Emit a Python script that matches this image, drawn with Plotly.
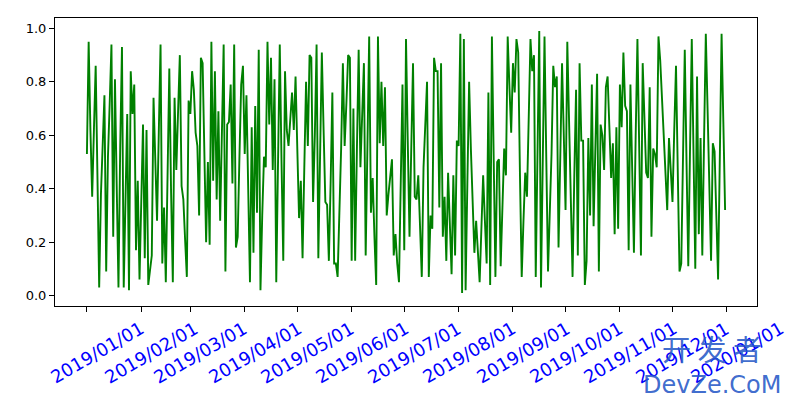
import pandas as pd
import plotly.graph_objects as go

start_date = "2019-01-01"
values = [
    0.53, 0.95, 0.62, 0.37, 0.62, 0.86, 0.45, 0.03, 0.38, 0.60,
    0.75, 0.09, 0.52, 0.72, 0.94, 0.22, 0.81, 0.41, 0.03, 0.56,
    0.93, 0.03, 0.36, 0.68, 0.02, 0.84, 0.68, 0.79, 0.17, 0.43,
    0.06, 0.37, 0.64, 0.14, 0.62, 0.04, 0.10, 0.15, 0.74, 0.51,
    0.28, 0.61, 0.94, 0.12, 0.33, 0.05, 0.46, 0.85, 0.39, 0.05,
    0.74, 0.47, 0.69, 0.90, 0.41, 0.36, 0.21, 0.07, 0.73, 0.68,
    0.84, 0.77, 0.61, 0.56, 0.30, 0.89, 0.87, 0.53, 0.20, 0.50,
    0.19, 0.95, 0.43, 0.84, 0.36, 0.69, 0.28, 0.61, 0.94, 0.09,
    0.64, 0.65, 0.79, 0.42, 0.94, 0.18, 0.22, 0.52, 0.79, 0.86,
    0.53, 0.75, 0.40, 0.05, 0.63, 0.16, 0.71, 0.31, 0.92, 0.02,
    0.30, 0.52, 0.48, 0.95, 0.64, 0.89, 0.47, 0.81, 0.05, 0.50,
    0.94, 0.50, 0.13, 0.84, 0.62, 0.56, 0.66, 0.76, 0.62, 0.82,
    0.55, 0.29, 0.43, 0.14, 0.48, 0.80, 0.56, 0.90, 0.89, 0.35,
    0.60, 0.94, 0.14, 0.52, 0.91, 0.62, 0.35, 0.34, 0.13, 0.42,
    0.76, 0.12, 0.12, 0.07, 0.30, 0.55, 0.87, 0.56, 0.72, 0.90,
    0.89, 0.13, 0.70, 0.13, 0.55, 0.92, 0.48, 0.68, 0.87, 0.15,
    0.62, 0.97, 0.31, 0.44, 0.22, 0.04, 0.97, 0.57, 0.80, 0.56,
    0.78, 0.30, 0.38, 0.45, 0.51, 0.15, 0.23, 0.12, 0.05, 0.42,
    0.79, 0.17, 0.96, 0.58, 0.22, 0.55, 0.87, 0.37, 0.36, 0.45,
    0.25, 0.07, 0.48, 0.64, 0.80, 0.07, 0.30, 0.25, 0.89, 0.84,
    0.84, 0.33, 0.87, 0.22, 0.37, 0.13, 0.46, 0.27, 0.08, 0.45,
    0.15, 0.58, 0.56, 0.98, 0.01, 0.96, 0.02, 0.42, 0.80, 0.55,
    0.36, 0.16, 0.28, 0.15, 0.05, 0.25, 0.45, 0.28, 0.12, 0.76,
    0.04, 0.97, 0.52, 0.07, 0.50, 0.51, 0.11, 0.33, 0.55, 0.45,
    0.97, 0.78, 0.61, 0.87, 0.76, 0.96, 0.91, 0.45, 0.07, 0.28,
    0.46, 0.37, 0.70, 0.96, 0.84, 0.90, 0.07, 0.55, 0.99, 0.03,
    0.50, 0.97, 0.52, 0.09, 0.31, 0.53, 0.86, 0.78, 0.82, 0.18,
    0.52, 0.87, 0.60, 0.32, 0.95, 0.66, 0.36, 0.07, 0.45, 0.77,
    0.15, 0.87, 0.58, 0.58, 0.04, 0.13, 0.59, 0.30, 0.79, 0.26,
    0.55, 0.83, 0.09, 0.64, 0.60, 0.47, 0.78, 0.82, 0.63, 0.44,
    0.57, 0.23, 0.63, 0.25, 0.79, 0.63, 0.91, 0.71, 0.69, 0.17,
    0.79, 0.45, 0.16, 0.60, 0.96, 0.56, 0.15, 0.87, 0.66, 0.46,
    0.44, 0.78, 0.22, 0.55, 0.53, 0.48, 0.97, 0.88, 0.74, 0.59,
    0.45, 0.32, 0.59, 0.48, 0.35, 0.62, 0.86, 0.47, 0.09, 0.12,
    0.55, 0.92, 0.50, 0.11, 0.55, 0.96, 0.53, 0.10, 0.82, 0.23,
    0.59, 0.15, 0.58, 0.98, 0.70, 0.42, 0.13, 0.57, 0.54, 0.30,
    0.06, 0.52, 0.98, 0.65, 0.32,
]
tick_labels = [
    "2019/01/01", "2019/02/01", "2019/03/01", "2019/04/01", "2019/05/01",
    "2019/06/01", "2019/07/01", "2019/08/01", "2019/09/01", "2019/10/01",
    "2019/11/01", "2019/12/01", "2020/01/01",
]
y_ticks = [0.0, 0.2, 0.4, 0.6, 0.8, 1.0]

dates = pd.date_range(start_date, periods=len(values), freq="D")
tick_dates = [pd.Timestamp(t.replace("/", "-")) for t in tick_labels]

span = dates[-1] - dates[0]
x_range = [dates[0] - span * 0.05, dates[-1] + span * 0.05]
ymin, ymax = min(values), max(values)
ypad = (ymax - ymin) * 0.05
y_range = [ymin - ypad, ymax + ypad]

# page body adds an 8px offset; target plot box in the photo: 55..757 x 17.5..306.5
OFF = 8
box_l, box_r, box_t, box_b = 55 - OFF, 757 - OFF, 17.5 - OFF, 306.5 - OFF
W, H = 795, 403

fig = go.Figure()
fig.add_trace(go.Scatter(
    x=dates, y=values, mode="lines",
    line=dict(color="#008000", width=1.9),
    showlegend=False, hoverinfo="skip",
))

for d, lab in zip(tick_dates, tick_labels):
    fig.add_annotation(
        x=d, y=0, xref="x", yref="paper", text=lab, showarrow=False,
        textangle=-30, xanchor="center", yanchor="middle",
        xshift=10, yshift=-46,
        font=dict(family="DejaVu Sans", size=18, color="#0000ff"),
    )

def to_paper(px, py):
    return ((px - OFF - box_l) / (box_r - box_l), (box_b - (py - OFF)) / (box_b - box_t))

wx, wy = to_paper(712, 349)
fig.add_annotation(
    x=wx, y=wy, xref="paper", yref="paper", text="开 发 者", showarrow=False,
    xanchor="center", yanchor="middle",
    font=dict(family="Noto Sans CJK SC", size=29, color="rgba(40,90,200,0.9)"),
)
wx, wy = to_paper(712, 386)
fig.add_annotation(
    x=wx, y=wy, xref="paper", yref="paper", text="DevZe.CoM", showarrow=False,
    xanchor="center", yanchor="middle",
    font=dict(family="DejaVu Sans", size=24, color="rgba(40,90,200,0.9)"),
)

fig.update_layout(
    width=W, height=H,
    margin=dict(l=box_l, r=W - box_r, t=box_t, b=H - box_b, autoexpand=False),
    paper_bgcolor="white", plot_bgcolor="white",
    font=dict(family="DejaVu Sans", size=13, color="black"),
    xaxis=dict(
        range=x_range, tickvals=tick_dates, showticklabels=False,
        ticks="outside", ticklen=5, tickcolor="black", tickwidth=1,
        showgrid=False, zeroline=False,
        showline=True, linecolor="black", linewidth=1, mirror=True,
    ),
    yaxis=dict(
        range=y_range, tickvals=y_ticks, ticktext=[f"{v:.1f}" for v in y_ticks],
        ticks="outside", ticklen=5, tickcolor="black", tickwidth=1,
        showgrid=False, zeroline=False,
        showline=True, linecolor="black", linewidth=1, mirror=True,
        tickfont=dict(family="DejaVu Sans", size=13, color="black"),
    ),
)

fig.write_html("out.html")
